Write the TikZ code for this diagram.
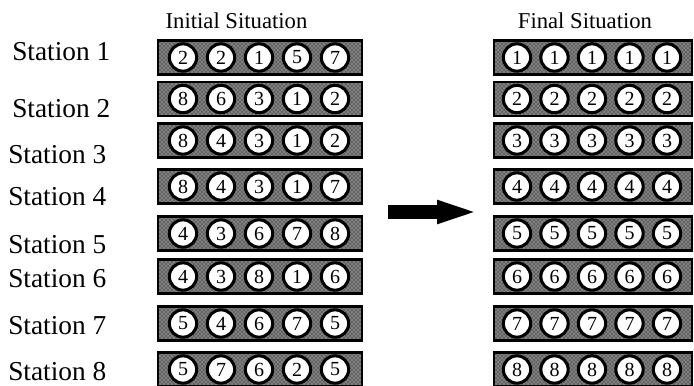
\documentclass[tikz,border=0pt]{standalone}
\usepackage{fontspec}
\setmainfont{Liberation Serif}
\usetikzlibrary{positioning, arrows.meta, patterns}

\begin{document}
\begin{tikzpicture}[x=0.75pt, y=-0.75pt,
        station/.style={anchor=base west, inner sep=0pt, font=\fontsize{20.5}{22}\selectfont},
        heading/.style={anchor=base, inner sep=0pt, font=\fontsize{17}{19}\selectfont},
        tray/.style={draw, line width=1.8pt, fill=black!50, minimum height=25.5pt, inner sep=0pt,
            postaction={pattern=crosshatch dots, pattern color=black}},
        ball/.style={circle, draw, line width=2.3pt, fill=white, minimum size=20.5pt, inner sep=0pt,
            font=\fontsize{15}{16}\selectfont}]
    \useasboundingbox (0,0) rectangle (694,386);
    \node[heading] (initial) at (236.5,28) {Initial Situation};
    \node[heading] (final) at (585,28) {Final Situation};
    \foreach \r/\y/\sx/\sy/\a/\b/\c/\d/\e in {1/57.5/12/60/2/2/1/5/7, 2/99/12/117/8/6/3/1/2,
            3/140.5/8/163/8/4/3/1/2, 4/186.5/8/205/8/4/3/1/7, 5/233.5/8/253/4/3/6/7/8,
            6/276.5/8/287/4/3/8/1/6, 7/323.5/8/334/5/4/6/7/5, 8/369.5/8/380/5/7/6/2/5} {
        \node[station] (st\r) at (\sx,\sy) {Station \r};
        \node[tray, minimum width=153pt] (ini\r) at (260,\y) {};
        \node[tray, minimum width=148.5pt] (fin\r) at (593,\y) {};
        \foreach \v [count=\k from 0] in {\a,\b,\c,\d,\e}
            \node[ball] (ini\r-\k) at (183+38*\k,\y) {\v};
        \foreach \k in {0,...,4}
            \node[ball] (fin\r-\k) at (517+37.5*\k,\y) {\r};
    }
    \coordinate (tail) at (388,212);
    \coordinate (tip) at (482,212);
    \draw[line width=10.5pt, -{Triangle[length=33.75pt, width=15pt]}] (tail) -- (tip);
\end{tikzpicture}
\end{document}
